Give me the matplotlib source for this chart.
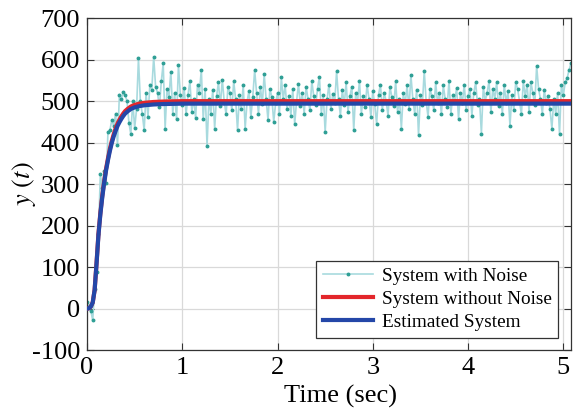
import numpy as np
import matplotlib
matplotlib.use("Agg")
import matplotlib.pyplot as plt

plt.rcParams['font.family'] = ['Liberation Serif', 'DejaVu Serif']
plt.rcParams['mathtext.fontset'] = 'stix'
plt.rcParams['axes.unicode_minus'] = False

# Sampling step of the measured (noisy) response, in seconds
dt = 0.02

# Measured output with measurement noise, sampled every dt seconds from t = 0
y_noisy = [
    16, 5, -5, -28, 47, 89, 180, 324, 290, 332,
    302, 426, 430, 454, 440, 470, 394, 516, 505, 522,
    515, 500, 448, 420, 500, 435, 480, 603, 500, 470,
    430, 520, 462, 540, 528, 607, 535, 520, 485, 548,
    591, 434, 530, 510, 571, 470, 520, 456, 587, 515,
    490, 532, 468, 515, 548, 475, 505, 460, 540, 520,
    576, 456, 530, 392, 505, 470, 528, 434, 512, 545,
    488, 552, 500, 468, 535, 520, 478, 548, 505, 430,
    515, 480, 540, 434, 498, 525, 462, 510, 575, 520,
    470, 535, 492, 565, 505, 455, 530, 510, 450, 495,
    520, 470, 557, 505, 538, 480, 512, 465, 530, 445,
    500, 542, 488, 520, 470, 535, 505, 478, 548, 512,
    490, 530, 559, 470, 515, 426, 505, 540, 480, 518,
    495, 572, 505, 465, 528, 490, 545, 475, 512, 535,
    430, 520, 498, 548, 470, 512, 485, 540, 505, 462,
    525, 492, 446, 515, 540, 478, 520, 500, 465, 535,
    510, 488, 548, 475, 505, 434, 520, 492, 538, 480,
    563, 505, 470, 528, 418, 515, 490, 573, 500, 462,
    530, 512, 478, 545, 495, 520, 468, 538, 505, 485,
    548, 470, 515, 500, 532, 458, 520, 495, 540, 478,
    512, 530, 465, 520, 545, 490, 505, 422, 535, 500,
    520, 548, 475, 530, 505, 545, 488, 520, 470, 540,
    495, 525, 440, 515, 478, 545, 530, 500, 468, 548,
    512, 540, 475, 545, 520, 490, 585, 530, 505, 470,
    528, 495, 512, 480, 434, 505, 470, 520, 420, 540,
    515, 545, 555, 575, 591,
]
t_noisy = np.arange(len(y_noisy)) * dt

# Noise-free response and identified model response
t_model = [0, .02, .04, .06, .08, .10, .12, .14, .16, .18, .20, .22, .24, .26, .28,
           .30, .32, .34, .36, .38, .40, .43, .46, .50, .55, .60, .70, .80, 1.0, 5.08]
y_clean = [0, 1, 5, 15, 45, 110, 180, 230, 272, 307, 337, 362, 385, 404, 420,
           434, 446, 455, 463, 470, 476, 482, 487, 491, 494, 496, 498, 499, 500, 500]
y_est = [0, 1, 5, 15, 45, 108, 177, 227, 268, 303, 333, 358, 380, 399, 415,
         428, 440, 449, 457, 464, 470, 476, 481, 485, 488, 490, 492, 493, 494, 494]

x_ticks = [0, 1, 2, 3, 4, 5]
y_ticks = [-100, 0, 100, 200, 300, 400, 500, 600, 700]

fig = plt.figure(figsize=(5.82, 4.12), dpi=100)
ax = fig.add_axes([0.1495, 0.150, 0.8315, 0.806])

ax.plot(t_noisy, y_noisy, color='#a8dade', lw=1.2, marker='o', ms=1.8,
        mfc='#2f9f95', mec='#2f9f95', label='System with Noise', zorder=2)
ax.plot(t_model, y_clean, color='#e3262b', lw=3.0, label='System without Noise', zorder=3)
ax.plot(t_model, y_est, color='#2447a8', lw=3.0, label='Estimated System', zorder=4)

ax.set_xlim(0, 5.08)
ax.set_ylim(-100, 700)
ax.set_xticks(x_ticks)
ax.set_yticks(y_ticks)
ax.tick_params(direction='in', top=True, right=True, length=5, width=0.8,
               labelsize=19, colors='#333333', labelcolor='black', pad=5)
ax.grid(True, color='#d9d9d9', lw=0.9)
ax.set_axisbelow(True)
for s in ax.spines.values():
    s.set_color('#333333')
    s.set_linewidth(0.9)

ax.set_xlabel('Time (sec)', fontsize=19)
ax.set_ylabel('$y$ $(t)$', fontsize=19)
ax.xaxis.set_label_coords(0.523, -0.105)
ax.yaxis.set_label_coords(-0.101, 0.5)

leg = ax.legend(loc='lower right', fontsize=13.9, frameon=True, fancybox=False,
                edgecolor='#333333', framealpha=1, borderaxespad=0.65,
                handlelength=2.6, handletextpad=0.45, borderpad=0.35,
                labelspacing=0.28)
leg.get_frame().set_linewidth(0.9)

fig.savefig('out.png', dpi=100)
